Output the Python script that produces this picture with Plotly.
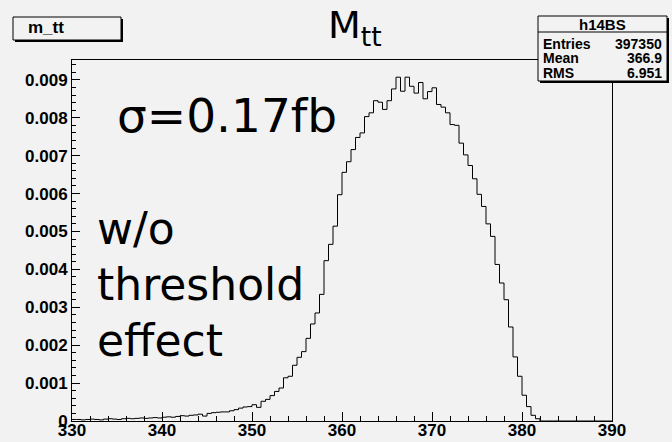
import plotly.graph_objects as go

# ---- data ----
bin_lo = 330.0
bin_width = 0.5
counts = [
    0.00004, 0.00004, 0.00003, 0.00004, 0.00005, 0.00004, 0.00003, 0.00005, 0.00006, 0.00005,
    0.00004, 0.00006, 0.00007, 0.00006, 0.00007, 0.00008, 0.00007, 0.00008, 0.00009, 0.00008,
    0.00010, 0.00011, 0.00010, 0.00012, 0.00014, 0.00013, 0.00015, 0.00016, 0.00018, 0.00013,
    0.00020, 0.00022, 0.00023, 0.00024, 0.00024, 0.00027, 0.00030, 0.00034, 0.00037, 0.00038,
    0.00043, 0.00036, 0.00052, 0.00057, 0.00067, 0.00078, 0.00087, 0.00114, 0.00118, 0.00147,
    0.00168, 0.00183, 0.00218, 0.00256, 0.00285, 0.00334, 0.00423, 0.00466, 0.00514, 0.00597,
    0.00656, 0.00684, 0.00716, 0.00748, 0.00760, 0.00803, 0.00813, 0.00845, 0.00841, 0.00822,
    0.00845, 0.00876, 0.00907, 0.00870, 0.00907, 0.00883, 0.00865, 0.00893, 0.00850, 0.00869,
    0.00879, 0.00835, 0.00828, 0.00813, 0.00782, 0.00780, 0.00733, 0.00702, 0.00674, 0.00639,
    0.00598, 0.00566, 0.00520, 0.00487, 0.00413, 0.00364, 0.00320, 0.00248, 0.00169, 0.00118,
    0.00068, 0.00038, 0.00015, 0.00006, 0, 0, 0, 0, 0, 0,
    0, 0, 0, 0, 0, 0, 0, 0, 0, 0,
]
x_ticks = [330, 340, 350, 360, 370, 380, 390]
y_ticks = [0, 0.001, 0.002, 0.003, 0.004, 0.005, 0.006, 0.007, 0.008, 0.009]
y_tick_labels = ["0", "0.001", "0.002", "0.003", "0.004", "0.005", "0.006", "0.007", "0.008", "0.009"]
stats_title = "h14BS"
stats_rows = [("Entries", "397350"), ("Mean", "366.9"), ("RMS", "6.951")]
hist_name = "m_tt"

edges = [bin_lo + bin_width * i for i in range(len(counts) + 1)]
ys = counts + [counts[-1]]
ymax = max(counts) * 1.05

BG = "#f2f2f2"
W, H = 672, 442
L, R, T, B = 72, 60, 60, 21
PW, PH = W - L - R, H - T - B


def px(x):
    return (x - L) / PW


def py(y):
    return (H - B - y) / PH


fig = go.Figure()
fig.add_trace(go.Scatter(x=edges, y=ys, mode="lines", line=dict(shape="hv", color="black", width=1),
                         hoverinfo="skip", showlegend=False))

tickfont = dict(family="Liberation Sans", size=17, color="black", weight="bold")
fig.update_xaxes(range=[330, 390], tickvals=x_ticks, ticktext=[str(v) for v in x_ticks],
                 ticks="inside", ticklen=9, tickwidth=1, tickcolor="black", automargin=False,
                 ticklabelstandoff=-6,
                 minor=dict(ticks="inside", ticklen=5, dtick=2, tickcolor="black", tickwidth=1),
                 showline=True, linecolor="black", linewidth=1, mirror=True,
                 showgrid=False, zeroline=False, tickfont=tickfont)
fig.update_yaxes(range=[0, ymax], tickvals=y_ticks, ticktext=y_tick_labels,
                 ticks="inside", ticklen=8, tickwidth=1, tickcolor="black", automargin=False,
                 minor=dict(ticks="inside", ticklen=4, dtick=0.0002, tickcolor="black", tickwidth=1),
                 showline=True, linecolor="black", linewidth=1, mirror=True,
                 showgrid=False, zeroline=False, tickfont=tickfont)

shapes = []
annots = []


def box(x0, y0, x1, y1, sh=2):
    shapes.append(dict(type="rect", xref="paper", yref="paper", x0=px(x0 + sh), x1=px(x1 + sh),
                       y0=py(y1 + sh), y1=py(y0 + sh), fillcolor="black", line=dict(width=0)))
    shapes.append(dict(type="rect", xref="paper", yref="paper", x0=px(x0), x1=px(x1),
                       y0=py(y1), y1=py(y0), fillcolor=BG, line=dict(color="black", width=1)))


# hist name label box
box(13, 17, 121, 40, sh=2)
annots.append(dict(text=hist_name, x=px(26), y=py(28), xanchor="left", yanchor="middle",
                   font=dict(family="Liberation Sans", size=17, color="black", weight="bold")))

# stats box
box(538, 16, 667, 81, sh=2)
shapes.append(dict(type="line", xref="paper", yref="paper", x0=px(538), x1=px(667), y0=py(32), y1=py(32),
                   line=dict(color="black", width=1)))
sfont = dict(family="Liberation Sans", size=14, color="black", weight="bold")
annots.append(dict(text=stats_title, x=px(602.5), y=py(24.5), xanchor="center", yanchor="middle",
                   font=dict(family="Liberation Sans", size=15, color="black", weight="bold")))
for i, (k, v) in enumerate(stats_rows):
    yy = 44 + 14.5 * i
    annots.append(dict(text=k, x=px(541), y=py(yy), xanchor="left", yanchor="middle", font=sfont))
    annots.append(dict(text=v, x=px(664), y=py(yy), xanchor="right", yanchor="middle", font=sfont))

# title
annots.append(dict(text="M<sub>tt</sub>", x=px(355), y=py(28), xanchor="center", yanchor="middle",
                   font=dict(family="DejaVu Sans", size=38, color="black")))

# in-plot texts
annots.append(dict(text="σ=0.17fb", x=px(115), y=py(115), xanchor="left", yanchor="middle",
                   font=dict(family="DejaVu Sans", size=47, color="black")))
for txt, base in [("w/o", 247), ("threshold", 303), ("effect", 359)]:
    annots.append(dict(text=txt, x=px(95), y=py(base - 19), xanchor="left", yanchor="middle",
                       font=dict(family="DejaVu Sans", size=44, color="black")))

for a in annots:
    a.update(xref="paper", yref="paper", showarrow=False)

fig.update_layout(width=W, height=H, margin=dict(l=L, r=R, t=T, b=B, pad=0, autoexpand=False),
                  paper_bgcolor=BG, plot_bgcolor=BG, shapes=shapes, annotations=annots,
                  showlegend=False)
fig.write_html("out.html", config={"displayModeBar": False},
               post_script="document.body.style.margin='0';document.body.style.overflow='hidden';")
